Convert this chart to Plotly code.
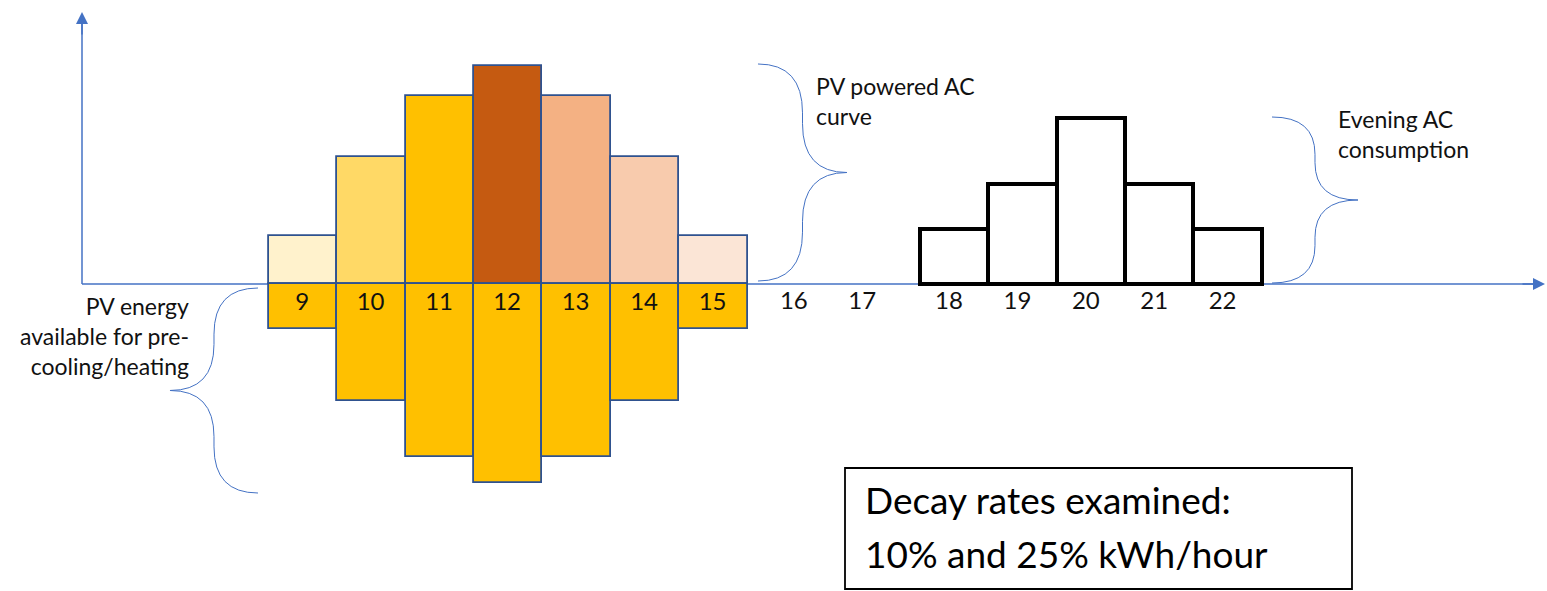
import plotly.graph_objects as go

# Hourly profile (relative energy units)
day_hours = [9, 10, 11, 12, 13, 14, 15]
pv_ac_load = [4.8, 12.7, 18.8, 21.8, 18.8, 12.7, 4.8]      # PV powered AC curve
pv_surplus = [4.5, 11.7, 17.3, 19.9, 17.3, 11.7, 4.5]      # PV energy left for pre-cooling/heating
day_colors = ["#FFF2CC", "#FFD966", "#FFC000", "#C55A11", "#F4B183", "#F8CBAD", "#FBE5D6"]

gap_hours = [16, 17]
evening_hours = [18, 19, 20, 21, 22]
evening_load = [5.5, 10.0, 16.6, 10.0, 5.5]                # evening AC consumption

W, H = 1547, 591
FONT = "Lato"
AXIS_BLUE = "#4472C4"
OUTLINE = "#2F528F"


def px(x):
    return x / W


def py(y):
    return 1 - y / H


def brace_path(x_end, y_top, x_tip, y_bot):
    """Curly brace from (x_end, y_top) to (x_end, y_bot) with its point at x_tip."""
    xm = (x_end + x_tip) / 2
    ym = (y_top + y_bot) / 2
    r = 0.45 * (ym - y_top)
    pts = [
        ("M", [(x_end, y_top)]),
        ("Q", [(xm, y_top), (xm, y_top + r)]),
        ("L", [(xm, ym - r)]),
        ("Q", [(xm, ym), (x_tip, ym)]),
        ("Q", [(xm, ym), (xm, ym + r)]),
        ("L", [(xm, y_bot - r)]),
        ("Q", [(xm, y_bot), (x_end, y_bot)]),
    ]
    out = []
    for cmd, coords in pts:
        out.append(cmd + " ".join(f"{px(a):.5f},{py(b):.5f}" for a, b in coords))
    return " ".join(out)


fig = go.Figure()

# Daytime AC load above the time axis
fig.add_trace(go.Bar(
    x=day_hours, y=pv_ac_load, width=1,
    marker=dict(color=day_colors, line=dict(color=OUTLINE, width=1.8)),
    hoverinfo="skip",
))

# Surplus PV energy below the time axis, labelled with the hour
fig.add_trace(go.Bar(
    x=day_hours, y=[-v for v in pv_surplus], width=1,
    marker=dict(color="#FFC000", line=dict(color=OUTLINE, width=1.8)),
    text=[str(h) for h in day_hours], textposition="inside",
    insidetextanchor="start", textangle=0,
    textfont=dict(family=FONT, size=24, color="#111111"),
    hoverinfo="skip",
))

# Evening consumption (outlined bars)
fig.add_trace(go.Bar(
    x=evening_hours, y=evening_load, width=1, xaxis="x2",
    marker=dict(color="white", line=dict(color="black", width=4)),
    hoverinfo="skip",
))

axis_pos = py(284)
fig.update_layout(
    width=W, height=H,
    margin=dict(l=0, r=0, t=0, b=0),
    paper_bgcolor="white", plot_bgcolor="white",
    showlegend=False, barmode="overlay", bargap=0,
    font=dict(family=FONT, color="#111111"),
    xaxis=dict(
        domain=[0, 1], range=[4.5702, 27.187],
        anchor="free", position=axis_pos,
        tickmode="array", tickvals=gap_hours, ticktext=[str(h) for h in gap_hours],
        ticks="", showline=False, showgrid=False, zeroline=False,
        tickfont=dict(family=FONT, size=24, color="#111111"),
        ticklabelshift=12,
    ),
    xaxis2=dict(
        domain=[0, 1], range=[4.0526, 26.6696], overlaying="x",
        anchor="free", position=axis_pos, side="bottom",
        tickmode="array", tickvals=evening_hours, ticktext=[str(h) for h in evening_hours],
        ticks="", showline=False, showgrid=False, zeroline=False,
        tickfont=dict(family=FONT, size=24, color="#111111"),
        ticklabelshift=-5,
    ),
    yaxis=dict(
        domain=[0, 1], range=[-30.7, 28.4],
        visible=False, showgrid=False, zeroline=False,
    ),
)

# Axis lines beneath the bars
fig.add_shape(type="line", xref="paper", yref="paper", layer="below",
              x0=px(82), x1=px(1536), y0=py(284), y1=py(284),
              line=dict(color=AXIS_BLUE, width=1.5))
fig.add_shape(type="line", xref="paper", yref="paper", layer="below",
              x0=px(82), x1=px(82), y0=py(284), y1=py(20),
              line=dict(color=AXIS_BLUE, width=1.5))

# Arrow heads
fig.add_annotation(xref="paper", yref="paper", x=px(1545), y=py(284), ax=-24, ay=0,
                   text="", showarrow=True, arrowhead=2, arrowsize=1.6,
                   arrowwidth=1.5, arrowcolor=AXIS_BLUE)
fig.add_annotation(xref="paper", yref="paper", x=px(82), y=py(12), ax=0, ay=24,
                   text="", showarrow=True, arrowhead=2, arrowsize=1.6,
                   arrowwidth=1.5, arrowcolor=AXIS_BLUE)

# Curly braces
for x_end, y_top, x_tip, y_bot in [(758, 64, 847, 281), (1272, 117, 1358, 283), (258, 288, 170, 493)]:
    fig.add_shape(type="path", xref="paper", yref="paper",
                  path=brace_path(x_end, y_top, x_tip, y_bot),
                  line=dict(color=AXIS_BLUE, width=1))

# Brace labels
fig.add_annotation(xref="paper", yref="paper", x=px(814), y=py(101),
                   xanchor="left", yanchor="middle", align="left", showarrow=False,
                   text="PV powered AC<br>curve", font=dict(family=FONT, size=23, color="#111111"))
fig.add_annotation(xref="paper", yref="paper", x=px(1336), y=py(134),
                   xanchor="left", yanchor="middle", align="left", showarrow=False,
                   text="Evening AC<br>consumption", font=dict(family=FONT, size=23, color="#111111"))
fig.add_annotation(xref="paper", yref="paper", x=px(191), y=py(336),
                   xanchor="right", yanchor="middle", align="right", showarrow=False,
                   text="PV energy<br>available for pre-<br>cooling/heating",
                   font=dict(family=FONT, size=23, color="#111111"))

# Decay-rate note box
fig.add_shape(type="rect", xref="paper", yref="paper",
              x0=px(845), x1=px(1352), y0=py(468), y1=py(589),
              line=dict(color="black", width=1.8), fillcolor="rgba(0,0,0,0)")
fig.add_annotation(xref="paper", yref="paper", x=px(863), y=py(499),
                   xanchor="left", yanchor="middle", showarrow=False,
                   text="Decay rates examined:", font=dict(family=FONT, size=37, color="black"))
fig.add_annotation(xref="paper", yref="paper", x=px(863), y=py(553),
                   xanchor="left", yanchor="middle", showarrow=False,
                   text="10% and 25% kWh/hour", font=dict(family=FONT, size=37, color="black"))

fig.write_html("out.html")
